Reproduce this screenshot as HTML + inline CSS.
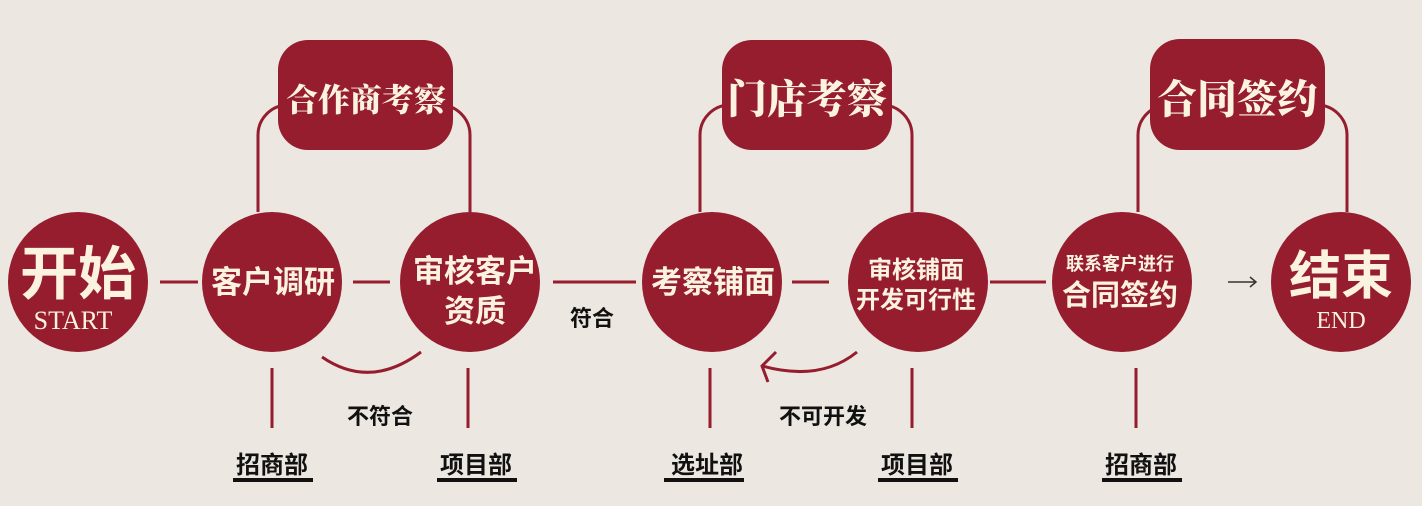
<!DOCTYPE html>
<html><head><meta charset="utf-8"><style>
body{margin:0;width:1422px;height:506px;background:#ece8e1;overflow:hidden;}
svg{display:block}
.c{fill:#951d2e}
.t{font-family:"Liberation Sans","Noto Sans CJK SC",sans-serif;font-weight:bold;fill:#fbf3e0;text-anchor:middle}
.s{font-family:"Noto Serif CJK SC","Liberation Serif",serif;font-weight:900;fill:#fbf3e0;text-anchor:middle}
.k{font-family:"Liberation Sans","Noto Sans CJK SC",sans-serif;font-weight:bold;fill:#111;text-anchor:middle}
.l{stroke:#951d2e;stroke-width:3;fill:none}
</style></head><body>
<svg width="1422" height="506" viewBox="0 0 1422 506">
<path class="l" d="M258 212 V135 A30 30 0 0 1 288 105 H440 A30 30 0 0 1 470 135 V212"/>
<path class="l" d="M700 212 V135 A30 30 0 0 1 730 105 H882 A30 30 0 0 1 912 135 V212"/>
<path class="l" d="M1138 212 V135 A30 30 0 0 1 1168 105 H1317 A30 30 0 0 1 1347 135 V212"/>
<rect class="c" x="278" y="40" width="175" height="110" rx="30"/>
<rect class="c" x="722" y="40" width="170" height="110" rx="30"/>
<rect class="c" x="1150" y="39" width="175" height="111" rx="30"/>
<text class="s" x="366" y="111" font-size="32">合作商考察</text>
<text class="s" x="807" y="113" font-size="40">门店考察</text>
<text class="s" x="1237" y="113" font-size="40">合同签约</text>
<g class="l">
<line x1="160" y1="282" x2="198" y2="282"/>
<line x1="353" y1="282" x2="390" y2="282"/>
<line x1="553" y1="282" x2="636" y2="282"/>
<line x1="792" y1="282" x2="829" y2="282"/>
<line x1="990" y1="282" x2="1046" y2="282"/>
</g>
<path d="M1228 282 H1256 M1250 277 L1256 282 L1250 287" stroke="#333" stroke-width="1.5" fill="none"/>
<circle class="c" cx="78" cy="282" r="70"/>
<circle class="c" cx="272" cy="282" r="70"/>
<circle class="c" cx="470" cy="282" r="70"/>
<circle class="c" cx="712" cy="282" r="70"/>
<circle class="c" cx="918" cy="282" r="70"/>
<circle class="c" cx="1122" cy="282" r="70"/>
<circle class="c" cx="1341" cy="282" r="70"/>
<text class="t" x="78" y="294" font-size="58">开始</text>
<text x="73" y="329" font-size="26" text-anchor="middle" fill="#fbf3e0" font-family="Liberation Serif,serif">START</text>
<text class="t" x="273" y="293" font-size="31">客户调研</text>
<text class="t" x="475" y="282" font-size="31">审核客户</text>
<text class="t" x="475" y="322" font-size="31">资质</text>
<text class="t" x="713" y="293" font-size="31">考察铺面</text>
<text class="t" x="916" y="278" font-size="24">审核铺面</text>
<text class="t" x="916" y="308" font-size="24">开发可行性</text>
<text class="t" x="1120" y="270" font-size="18">联系客户进行</text>
<text class="t" x="1120" y="305" font-size="29">合同签约</text>
<text class="t" x="1341" y="294" font-size="52">结束</text>
<text x="1341" y="328" font-size="24" text-anchor="middle" fill="#fbf3e0" font-family="Liberation Serif,serif">END</text>
<path class="l" d="M322 357 Q370 390 421 352"/>
<path class="l" d="M857 352 Q820 382 762 366"/>
<path class="l" d="M776 352 L762 366 L768 382"/>
<text class="k" x="380" y="424" font-size="22">不符合</text>
<text class="k" x="823" y="424" font-size="22">不可开发</text>
<text class="k" x="592" y="326" font-size="22">符合</text>
<g class="l">
<line x1="272" y1="368" x2="272" y2="428"/>
<line x1="468" y1="368" x2="468" y2="428"/>
<line x1="710" y1="368" x2="710" y2="428"/>
<line x1="912" y1="368" x2="912" y2="428"/>
<line x1="1136" y1="368" x2="1136" y2="428"/>
</g>
<g fill="#111">
<rect x="233" y="478" width="80" height="4"/>
<rect x="437" y="478" width="80" height="4"/>
<rect x="664" y="478" width="80" height="4"/>
<rect x="878" y="478" width="80" height="4"/>
<rect x="1102" y="478" width="80" height="4"/>
</g>
<text class="k" x="272" y="473" font-size="24">招商部</text>
<text class="k" x="476" y="473" font-size="24">项目部</text>
<text class="k" x="707" y="473" font-size="24">选址部</text>
<text class="k" x="917" y="473" font-size="24">项目部</text>
<text class="k" x="1141" y="473" font-size="24">招商部</text>
</svg>
</body></html>
